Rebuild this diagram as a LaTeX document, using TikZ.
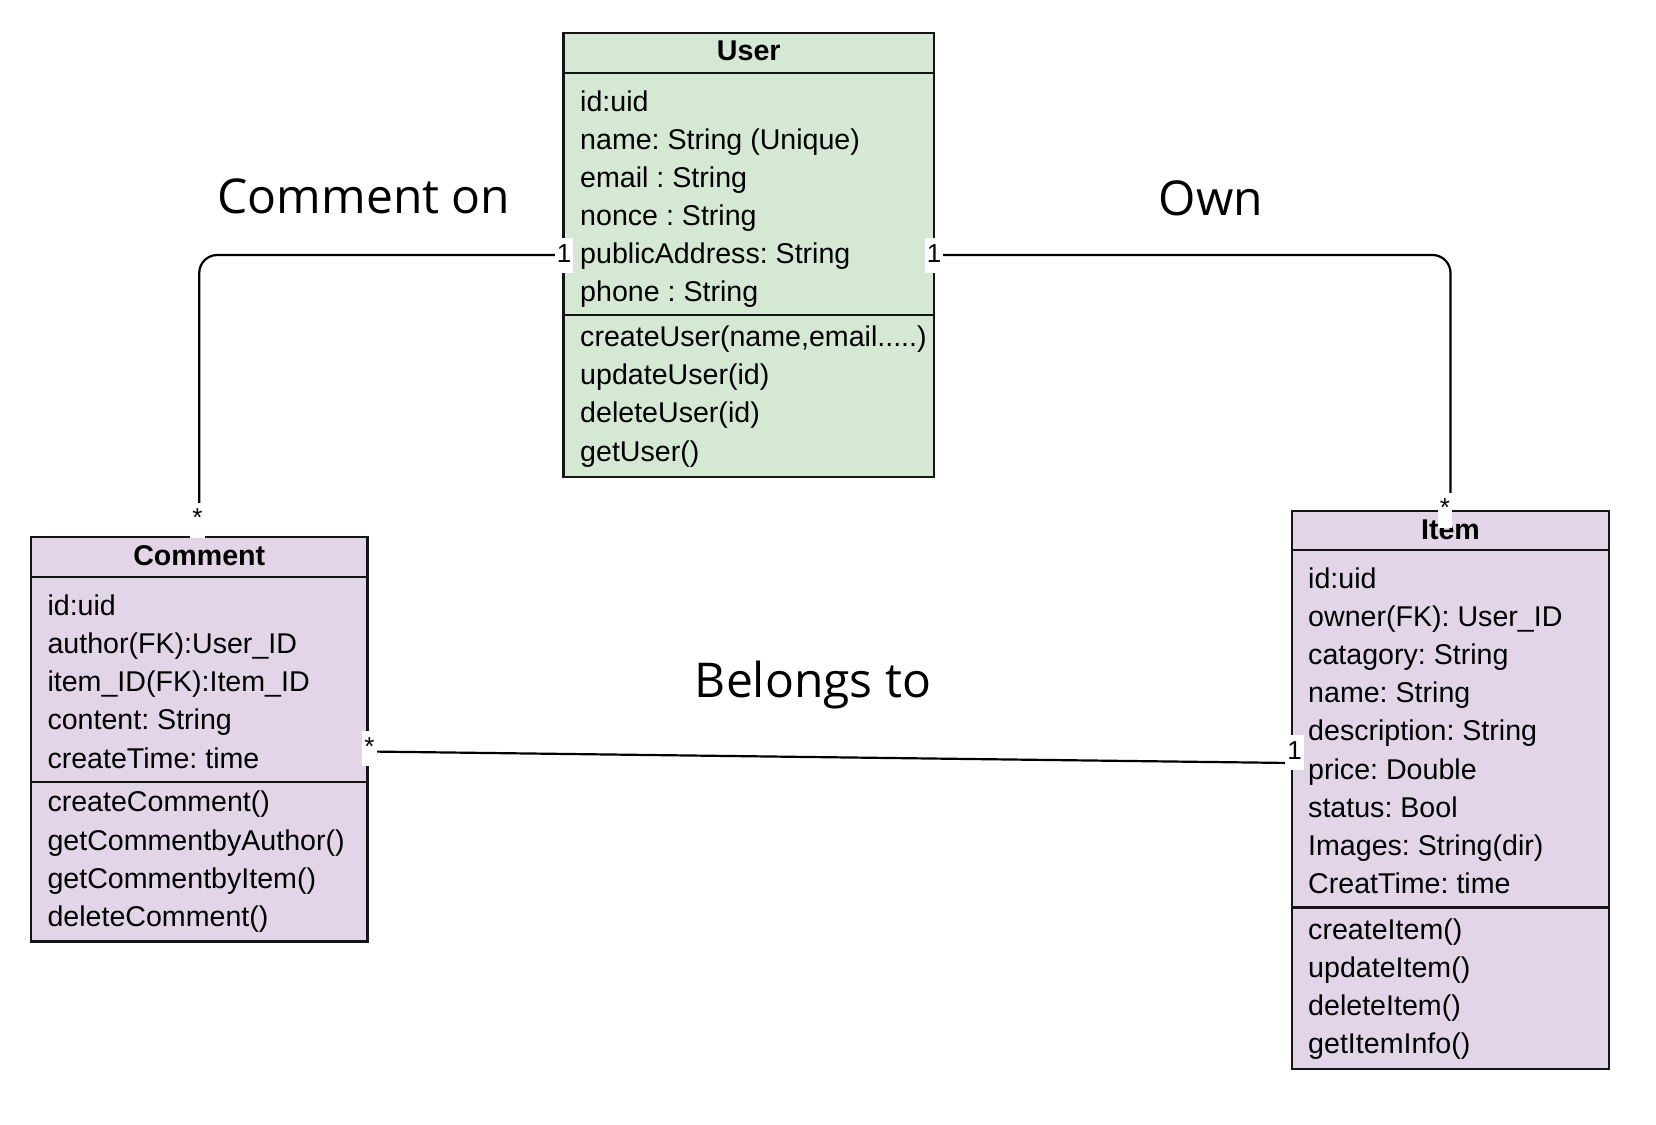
\documentclass[tikz,border=0pt]{standalone}
\usepackage{fontspec}
\newfontfamily\umlfont{Liberation Sans}
\newfontfamily\relfont{Open Sans}
\definecolor{usergreen}{HTML}{D5E8D4}
\definecolor{itempurple}{HTML}{E1D5E7}
\definecolor{edgecol}{HTML}{151515}
\newcommand\mycreateuser{createUser(name,email.....)}
\frenchspacing
\begin{document}
\begin{tikzpicture}[x=1pt,y=-1pt,
  classbox/.style={draw=edgecol, line width=2.6pt, rectangle, inner sep=0pt},
  rowtext/.style={anchor=base west, inner sep=0pt, font=\umlfont\frenchspacing\fontsize{28.6}{34}\selectfont},
  headtext/.style={anchor=base, inner sep=0pt, font=\umlfont\bfseries\fontsize{28.6}{34}\selectfont},
  divider/.style={draw=edgecol, line width=2.4pt},
  conn/.style={draw=black, line width=2.2pt, rounded corners=18pt},
  mult/.style={fill=white, inner xsep=2pt, inner ysep=5pt, text height=19pt, text depth=6pt, font=\umlfont\fontsize{26}{30}\selectfont},
  reltext/.style={anchor=base, inner sep=0pt, font=\relfont\fontsize{48}{56}\selectfont}]
\useasboundingbox (0,0) rectangle (1656,1124);

% class boxes
\node[classbox, fill=usergreen, minimum width=370.5pt, minimum height=444pt] (user) at (748.75,255) {};
\node[classbox, fill=itempurple, minimum width=336.5pt, minimum height=404.5pt] (comment) at (199.25,739.25) {};
\node[classbox, fill=itempurple, minimum width=317pt, minimum height=558pt] (item) at (1450.5,790) {};

% dividers
\draw[divider] (563.5,73) -- (934,73);
\draw[divider] (563.5,315) -- (934,315);
\draw[divider] (31,577) -- (367.5,577);
\draw[divider] (31,782) -- (367.5,782);
\draw[divider] (1292,550) -- (1609,550);
\draw[divider] (1292,907.5) -- (1609,907.5);

% User
\node[headtext] (userhead) at (748.75,60) {User};
\foreach \t [count=\i] in {id:uid, name: String (Unique), email : String, nonce : String, publicAddress: String, phone : String}
  \node[rowtext] (ua\i) at (580,{111+(\i-1)*38.1}) {\t};
\foreach \t [count=\i] in {\mycreateuser, updateUser(id), deleteUser(id), getUser()}
  \node[rowtext] (um\i) at (580,{346.7+(\i-1)*38.1}) {\t};

% Comment
\node[headtext] (commenthead) at (199.25,565) {Comment};
\foreach \t [count=\i] in {id:uid, author(FK):User\_ID, item\_ID(FK):Item\_ID, content: String, createTime: time}
  \node[rowtext] (ca\i) at (47.3,{615+(\i-1)*38.3}) {\t};
\foreach \t [count=\i] in {createComment(), getCommentbyAuthor(), getCommentbyItem(), deleteComment()}
  \node[rowtext] (cm\i) at (47.3,{811.7+(\i-1)*38.3}) {\t};

% Item
\node[headtext] (itemhead) at (1450.5,539) {Item};
\foreach \t [count=\i] in {id:uid, owner(FK): User\_ID, catagory: String, name: String, description: String, price: Double, status: Bool, Images: String(dir), CreatTime: time}
  \node[rowtext] (ia\i) at (1308,{588+(\i-1)*38.2}) {\t};
\foreach \t [count=\i] in {createItem(), updateItem(), deleteItem(), getItemInfo()}
  \node[rowtext] (im\i) at (1308,{939+(\i-1)*38.2}) {\t};

% connectors
\draw[conn] (user.west) -| (comment.north);
\draw[conn] (user.east) -| (item.north);
\draw[conn] ([yshift=-12.25pt]comment.east) -- ([yshift=27pt]item.west);

% multiplicities
\node[mult] (m1) at (564,255.5) {1};
\node[mult] (m2) at (934,255.5) {1};
\node[mult] (m3) at (197.5,520) {*};
\node[mult] (m4) at (1445,510) {*};
\node[mult] (m5) at (369.5,748.5) {*};
\node[mult] (m6) at (1294.5,752.5) {1};

% relation labels
\node[reltext] (lcomment) at (364,213) {Comment on};
\node[reltext] (lown) at (1211,215) {Own};
\node[reltext] (lbelong) at (813,697) {Belongs to};
\end{tikzpicture}
\end{document}
